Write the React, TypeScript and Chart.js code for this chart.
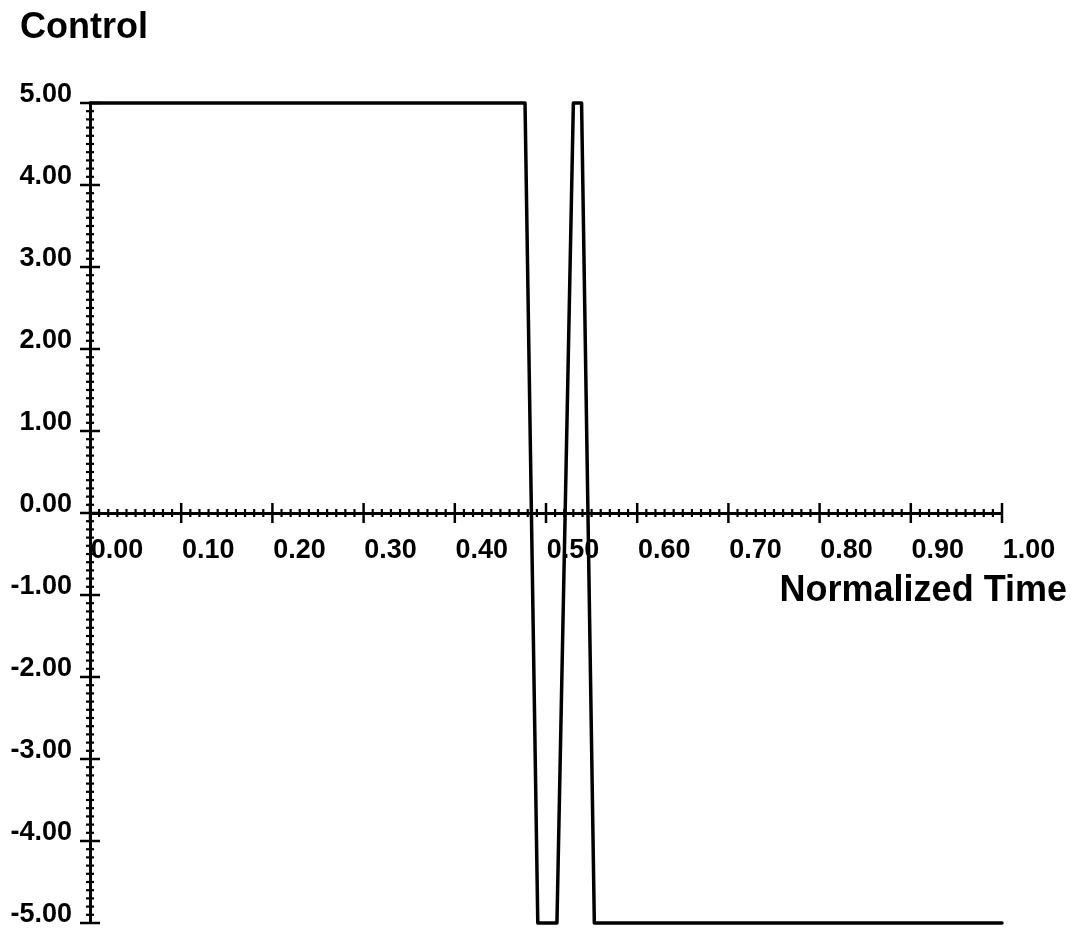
import React, { useEffect, useRef } from 'react';
import { Chart, registerables } from 'chart.js';

Chart.register(...registerables);

// ---- data ----
const timeValues = [0, 0.477, 0.491, 0.512, 0.53, 0.539, 0.553, 1.0];
const controlValues = [5, 5, -5, -5, 5, 5, -5, -5];
const xTickValues = [0, 0.1, 0.2, 0.3, 0.4, 0.5, 0.6, 0.7, 0.8, 0.9, 1.0];
const yTickValues = [-5, -4, -3, -2, -1, 0, 1, 2, 3, 4, 5];
const yAxisTitle = 'Control';
const xAxisTitle = 'Normalized Time';
const minorPerMajor = 10;

const FONT = '"Liberation Sans", Arial, Helvetica, sans-serif';

const axisDecor = {
  id: 'axisDecor',
  beforeDatasetsDraw(chart: any) {
    const { ctx, scales, chartArea } = chart;
    const xs = scales.x;
    const ys = scales.y;
    const axisY = ys.getPixelForValue(0);
    const axisX = chartArea.left;
    ctx.save();
    ctx.strokeStyle = '#000';
    ctx.lineCap = 'butt';
    // minor ticks on x
    ctx.lineWidth = 2.2;
    for (let i = 0; i < xTickValues.length - 1; i++) {
      const a = xTickValues[i];
      const b = xTickValues[i + 1];
      for (let k = 1; k < minorPerMajor; k++) {
        const px = xs.getPixelForValue(a + ((b - a) * k) / minorPerMajor);
        ctx.beginPath();
        ctx.moveTo(px, axisY - 4);
        ctx.lineTo(px, axisY + 4);
        ctx.stroke();
      }
    }
    // minor ticks on y
    for (let i = 0; i < yTickValues.length - 1; i++) {
      const a = yTickValues[i];
      const b = yTickValues[i + 1];
      for (let k = 1; k < minorPerMajor; k++) {
        const py = ys.getPixelForValue(a + ((b - a) * k) / minorPerMajor);
        ctx.beginPath();
        ctx.moveTo(axisX - 4, py);
        ctx.lineTo(axisX + 4, py);
        ctx.stroke();
      }
    }
    // major ticks
    ctx.lineWidth = 2.5;
    xTickValues.forEach((v) => {
      const px = xs.getPixelForValue(v);
      ctx.beginPath();
      ctx.moveTo(px, axisY - 10);
      ctx.lineTo(px, axisY + 10);
      ctx.stroke();
    });
    yTickValues.forEach((v) => {
      const py = ys.getPixelForValue(v);
      ctx.beginPath();
      ctx.moveTo(axisX - 10, py);
      ctx.lineTo(axisX + 10, py);
      ctx.stroke();
    });
    // axis titles
    ctx.fillStyle = '#000';
    ctx.font = `bold 36px ${FONT}`;
    ctx.textBaseline = 'middle';
    ctx.textAlign = 'right';
    ctx.fillText(xAxisTitle, xs.right + 65, axisY + 78);
    ctx.textAlign = 'left';
    ctx.fillText(yAxisTitle, 20, 28);
    ctx.restore();
  },
};

export default function App() {
  const canvasRef = useRef<HTMLCanvasElement | null>(null);

  useEffect(() => {
    const canvas = canvasRef.current;
    if (!canvas) return;
    const chart = new Chart(canvas, {
      type: 'line',
      data: {
        datasets: [
          {
            data: timeValues.map((t, i) => ({ x: t, y: controlValues[i] })),
            borderColor: '#000',
            borderWidth: 3.5,
            pointRadius: 0,
            tension: 0,
            borderJoinStyle: 'round',
            borderCapStyle: 'round',
            clip: false,
          } as any,
        ],
      },
      options: {
        animation: false,
        responsive: false,
        devicePixelRatio: 1,
        layout: { padding: { left: 0, top: 103, right: 69, bottom: 8 } },
        plugins: {
          legend: { display: false },
          tooltip: { enabled: false },
          title: { display: false },
        },
        scales: {
          x: {
            type: 'linear',
            min: 0,
            max: 1,
            position: { y: 0 } as any,
            afterBuildTicks: (s: any) => {
              s.ticks = xTickValues.map((v) => ({ value: v }));
            },
            afterFit: (s: any) => {
              s.height = 0;
              s.paddingLeft = 0;
              s.paddingRight = 0;
              s.paddingTop = 0;
              s.paddingBottom = 0;
            },
            ticks: {
              autoSkip: false,
              maxRotation: 0,
              color: '#000',
              padding: 21,
              labelOffset: 27,
              font: { family: FONT, size: 27, weight: 'bold' },
              callback: (v: any) => Number(v).toFixed(2),
            },
            grid: { display: false, drawTicks: false },
            border: { display: true, width: 3, color: '#000' },
          },
          y: {
            type: 'linear',
            min: -5,
            max: 5,
            afterBuildTicks: (s: any) => {
              s.ticks = yTickValues.map((v) => ({ value: v }));
            },
            afterFit: (s: any) => {
              s.width = 90;
              s.paddingTop = 0;
              s.paddingBottom = 0;
            },
            ticks: {
              autoSkip: false,
              color: '#000',
              padding: 18,
              labelOffset: -8,
              font: { family: FONT, size: 27, weight: 'bold' },
              callback: (v: any) => Number(v).toFixed(2),
            },
            grid: { display: false, drawTicks: false },
            border: { display: true, width: 3, color: '#000' },
          },
        },
      } as any,
      plugins: [axisDecor],
    });
    return () => chart.destroy();
  }, []);

  return (
    <div style={{ position: 'absolute', left: 0, top: 0, width: 1071, height: 931, background: '#fff' }}>
      <canvas ref={canvasRef} width={1071} height={931} />
    </div>
  );
}
